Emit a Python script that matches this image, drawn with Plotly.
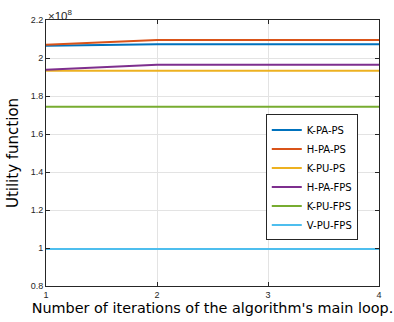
import plotly.graph_objects as go

iterations = [1, 2, 3, 4]
series_names = ["K-PA-PS", "H-PA-PS", "K-PU-PS", "H-PA-FPS", "K-PU-FPS", "V-PU-FPS"]
k_pa_ps = [2.065e8, 2.072e8, 2.072e8, 2.072e8]
h_pa_ps = [2.070e8, 2.095e8, 2.095e8, 2.095e8]
k_pu_ps = [1.933e8, 1.933e8, 1.933e8, 1.933e8]
h_pa_fps = [1.938e8, 1.965e8, 1.965e8, 1.965e8]
k_pu_fps = [1.744e8, 1.744e8, 1.744e8, 1.744e8]
v_pu_fps = [0.995e8, 0.995e8, 0.995e8, 0.995e8]
y_ticks = [0.8, 1.0, 1.2, 1.4, 1.6, 1.8, 2.0, 2.2]
y_tick_labels = ["0.8", "1", "1.2", "1.4", "1.6", "1.8", "2", "2.2"]
scale = 1e8

colors = ["#0072BD", "#D95319", "#EDB120", "#7E2F8E", "#77AC30", "#4DBEEE"]
all_series = [k_pa_ps, h_pa_ps, k_pu_ps, h_pa_fps, k_pu_fps, v_pu_fps]

fig = go.Figure()
for name, vals, c in zip(series_names, all_series, colors):
    fig.add_trace(go.Scatter(x=iterations, y=[v / scale for v in vals], mode="lines",
                             name=name, line=dict(color=c, width=2)))

axis_common = dict(showline=True, linecolor="#262626", linewidth=1, mirror="ticks",
                   ticks="inside", ticklen=4, tickcolor="#262626",
                   showgrid=True, gridcolor="#e3e3e3", gridwidth=1, zeroline=False,
                   tickfont=dict(size=9, color="#262626", family="Liberation Sans"))

fig.update_layout(
    width=394, height=322,
    margin=dict(l=46, r=13, t=20, b=35),
    paper_bgcolor="white", plot_bgcolor="white",
    font=dict(family="DejaVu Sans", color="#262626"),
    xaxis=dict(range=[1, 4], tickvals=iterations, ticktext=[str(i) for i in iterations],
               title=dict(text="Number of iterations of the algorithm's main loop.",
                          font=dict(size=14.4, color="#000000"), standoff=0),
               **axis_common),
    yaxis=dict(range=[0.8, 2.2], tickvals=y_ticks, ticktext=y_tick_labels,
               title=dict(text="Utility function", font=dict(size=15, color="#000000"), standoff=8),
               **axis_common),
    legend=dict(x=0.66, y=0.645, xanchor="left", yanchor="top",
                bgcolor="white", bordercolor="#262626", borderwidth=1,
                font=dict(size=10, color="#000000"), tracegroupgap=0,
                itemwidth=30),
    showlegend=True,
    annotations=[dict(text="×10<sup>8</sup>", xref="paper", yref="paper", x=0, y=1,
                      xanchor="left", yanchor="bottom", showarrow=False,
                      font=dict(size=11.5, color="#262626", family="Liberation Sans"), yshift=-4)],
)

fig.write_html("out.html", config={"displayModeBar": False},
               post_script="document.body.style.margin='0';")
